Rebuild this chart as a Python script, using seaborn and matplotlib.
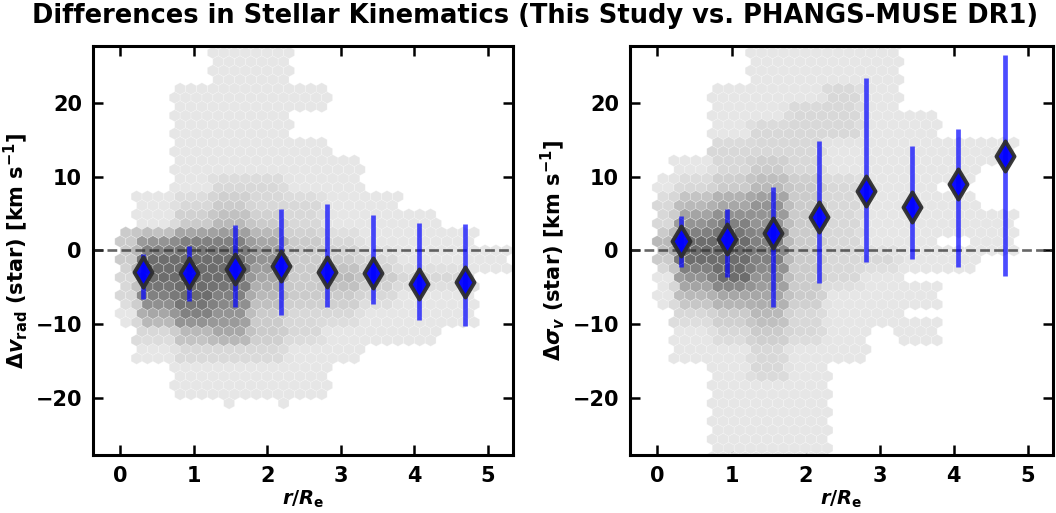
import numpy as np
import pandas as pd
import matplotlib
matplotlib.use("Agg")
import matplotlib.pyplot as plt
import seaborn as sns
from matplotlib.colors import LinearSegmentedColormap

# ---- binned statistics (median and 16th/84th percentile range per radial bin) ----
r_bin = [0.3125, 0.9375, 1.5625, 2.1875, 2.8125, 3.4375, 4.0625, 4.6875]

dvrad_med = [-2.9, -3.1, -2.5, -2.1, -2.9, -3.0, -4.5, -4.3]
dvrad_lo = [-6.6, -6.8, -7.7, -8.7, -7.7, -7.3, -9.4, -10.2]
dvrad_hi = [-0.45, 0.6, 3.5, 5.6, 6.3, 4.8, 3.7, 3.6]

dsig_med = [1.3, 1.5, 2.3, 4.5, 8.1, 5.9, 9.0, 12.8]
dsig_lo = [-2.3, -3.6, -7.7, -4.4, -1.5, -1.2, -2.2, -3.4]
dsig_hi = [4.7, 5.6, 8.6, 14.8, 23.3, 14.1, 16.4, 26.5]

# ---- spaxel density (shade level 0-9) on a coarse map ----
# columns: r/Re centres 0.0 ... 5.0 (width 0.5); rows: offset centres +26.25 ... -26.25 (height 2.5)
dens_r = [0.0, 0.5, 1.0, 1.5, 2.0, 2.5, 3.0, 3.5, 4.0, 4.5, 5.0]
dens_d = [26.25, 23.75, 21.25, 18.75, 16.25, 13.75, 11.25, 8.75, 6.25, 3.75, 1.25,
          -1.25, -3.75, -6.25, -8.75, -11.25, -13.75, -16.25, -18.75, -21.25, -23.75, -26.25]

dens_vrad = [
    [0, 0, 0, 1, 1, 0, 0, 0, 0, 0, 0],
    [0, 0, 0, 1, 1, 0, 0, 0, 0, 0, 0],
    [0, 0, 1, 1, 1, 1, 0, 0, 0, 0, 0],
    [0, 0, 1, 1, 1, 0, 0, 0, 0, 0, 0],
    [0, 0, 1, 1, 1, 0, 0, 0, 0, 0, 0],
    [0, 0, 1, 1, 1, 1, 0, 0, 0, 0, 0],
    [0, 0, 1, 1, 1, 1, 1, 0, 0, 0, 0],
    [0, 0, 1, 2, 2, 1, 1, 0, 0, 0, 0],
    [0, 1, 2, 3, 2, 2, 1, 1, 0, 0, 0],
    [0, 1, 3, 4, 3, 2, 1, 1, 1, 0, 0],
    [3, 6, 7, 7, 5, 3, 2, 1, 1, 1, 0],
    [3, 8, 8, 8, 6, 3, 3, 2, 1, 1, 1],
    [2, 8, 8, 8, 5, 3, 4, 3, 2, 2, 0],
    [2, 7, 8, 7, 4, 3, 3, 2, 1, 1, 0],
    [1, 5, 7, 6, 3, 2, 2, 1, 1, 1, 0],
    [0, 2, 4, 5, 3, 2, 1, 1, 1, 0, 0],
    [0, 1, 2, 2, 2, 1, 1, 0, 0, 0, 0],
    [0, 0, 1, 1, 1, 1, 0, 0, 0, 0, 0],
    [0, 0, 1, 1, 1, 1, 0, 0, 0, 0, 0],
    [0, 0, 0, 0, 0, 0, 0, 0, 0, 0, 0],
    [0, 0, 0, 0, 0, 0, 0, 0, 0, 0, 0],
    [0, 0, 0, 0, 0, 0, 0, 0, 0, 0, 0],
]

dens_sig = [
    [0, 0, 0, 1, 1, 1, 1, 0, 0, 0, 0],
    [0, 0, 0, 1, 1, 1, 1, 0, 0, 0, 0],
    [0, 0, 1, 1, 1, 2, 1, 0, 0, 0, 0],
    [0, 0, 1, 1, 2, 2, 1, 0, 0, 0, 0],
    [0, 0, 1, 2, 2, 2, 1, 1, 0, 0, 0],
    [0, 0, 2, 2, 2, 1, 1, 1, 1, 1, 0],
    [0, 1, 2, 3, 2, 1, 1, 1, 1, 0, 0],
    [1, 2, 3, 4, 3, 2, 1, 1, 0, 0, 0],
    [2, 4, 5, 6, 3, 2, 1, 1, 1, 0, 0],
    [2, 6, 7, 6, 3, 2, 1, 1, 1, 1, 0],
    [4, 8, 8, 7, 3, 2, 1, 1, 0, 1, 0],
    [3, 8, 8, 7, 3, 2, 2, 1, 1, 0, 0],
    [1, 6, 8, 6, 3, 2, 1, 0, 0, 0, 0],
    [1, 4, 5, 5, 3, 1, 1, 1, 0, 0, 0],
    [0, 2, 3, 4, 2, 1, 1, 0, 0, 0, 0],
    [0, 1, 2, 3, 2, 1, 0, 1, 0, 0, 0],
    [0, 1, 1, 2, 1, 1, 0, 0, 0, 0, 0],
    [0, 0, 1, 2, 1, 0, 0, 0, 0, 0, 0],
    [0, 0, 1, 1, 1, 0, 0, 0, 0, 0, 0],
    [0, 0, 1, 1, 1, 0, 0, 0, 0, 0, 0],
    [0, 0, 1, 1, 1, 0, 0, 0, 0, 0, 0],
    [0, 0, 1, 1, 1, 0, 0, 0, 0, 0, 0],
]

x_ticks = [0, 1, 2, 3, 4, 5]
y_ticks = [-20, -10, 0, 10, 20]

title = "Differences in Stellar Kinematics (This Study vs. PHANGS-MUSE DR1)"
xlabel = r"$\mathbfit{r}/\mathbfit{R}_{\mathbf{e}}$"
ylabel_v = r"$\mathbf{\Delta}\mathbfit{v}_{\mathbf{rad}}$ (star) [km s$^{\mathbf{-1}}$]"
ylabel_s = r"$\mathbf{\Delta}\mathbfit{\sigma}_{\mathit{v}}$ (star) [km s$^{\mathbf{-1}}$]"

# ---- style ----
sns.set_theme(style="ticks")
plt.rcParams.update({
    "font.family": ["DejaVu Sans"],
    "font.weight": "bold",
    "axes.labelweight": "bold",
    "mathtext.fontset": "dejavusans",
    "mathtext.default": "bf",
    "text.color": "black",
    "axes.labelcolor": "black",
    "xtick.color": "black",
    "ytick.color": "black",
    "axes.edgecolor": "black",
})

grey_map = LinearSegmentedColormap.from_list(
    "soft_greys",
    [(0.0, "#e6e6e6"), (0.25, "#cbcbcb"), (0.5, "#a7a7a7"),
     (0.75, "#818181"), (0.875, "#6d6d6d"), (1.0, "#5c5c5c")])


def density_table(levels):
    """Spread each map cell's level over a fine lattice inside the cell."""
    rows = []
    for j, yc in enumerate(dens_d):
        for i, xc in enumerate(dens_r):
            lev = levels[j][i]
            if lev == 0:
                continue
            x0 = max(xc - 0.25, 0.0)
            xs = np.arange(x0 + 0.01, xc + 0.25, 0.02)
            ys = np.arange(yc - 1.25 + 0.1, yc + 1.25, 0.2)
            gx, gy = np.meshgrid(xs, ys)
            rows.append(pd.DataFrame({"r": gx.ravel(), "d": gy.ravel(), "level": float(lev)}))
    return pd.concat(rows, ignore_index=True)


fig = plt.figure(figsize=(10.56, 5.13), dpi=100)
ax_l = fig.add_axes([0.0881, 0.1131, 0.3977, 0.7973])
ax_r = fig.add_axes([0.5966, 0.1131, 0.4006, 0.7973])

panels = [
    (ax_l, dens_vrad, dvrad_med, dvrad_lo, dvrad_hi, ylabel_v),
    (ax_r, dens_sig, dsig_med, dsig_lo, dsig_hi, ylabel_s),
]

for ax, dens, med, lo, hi, ylab in panels:
    tab = density_table(dens)
    ax.hexbin(tab["r"], tab["d"], C=tab["level"], reduce_C_function=np.mean,
              gridsize=(36, 23), extent=(0.0, 5.33, -28.0, 28.0),
              cmap=grey_map, vmin=1, vmax=9, edgecolors=(1, 1, 1, 0.3),
              linewidths=0.5, zorder=1)

    ax.axhline(0, color="#333333", alpha=0.75, lw=1.9, ls="--", zorder=2)

    med_a = np.asarray(med)
    yerr = np.vstack([med_a - np.asarray(lo), np.asarray(hi) - med_a])
    ax.errorbar(r_bin, med, yerr=yerr, fmt="none", ecolor="blue", alpha=0.7,
                elinewidth=3.4, capsize=0, zorder=3)
    stats = pd.DataFrame({"r": r_bin, "d": med})
    sns.scatterplot(data=stats, x="r", y="d", marker="d", s=235, color="blue",
                    edgecolor="#2e2e2e", linewidth=2.8, alpha=0.95, ax=ax,
                    zorder=4, legend=False)

    ax.set_xlim(-0.37, 5.34)
    ax.set_ylim(-27.7, 27.7)
    ax.set_xticks(x_ticks)
    ax.set_yticks(y_ticks)
    ax.tick_params(direction="in", which="major", length=7, width=1.8,
                   top=True, right=True, labelsize=15, pad=8)
    for lbl in ax.get_xticklabels() + ax.get_yticklabels():
        lbl.set_fontweight("bold")
    for sp in ax.spines.values():
        sp.set_linewidth(2.2)
        sp.set_color("black")
    ax.set_xlabel(xlabel, fontsize=14, fontweight="bold", labelpad=2)
    ax.set_ylabel(ylab, fontsize=15, fontweight="bold", labelpad=4)

fig.suptitle(title, fontsize=18.5, fontweight="bold", x=0.507, y=0.968, va="center")

fig.savefig("out.png", dpi=100)
